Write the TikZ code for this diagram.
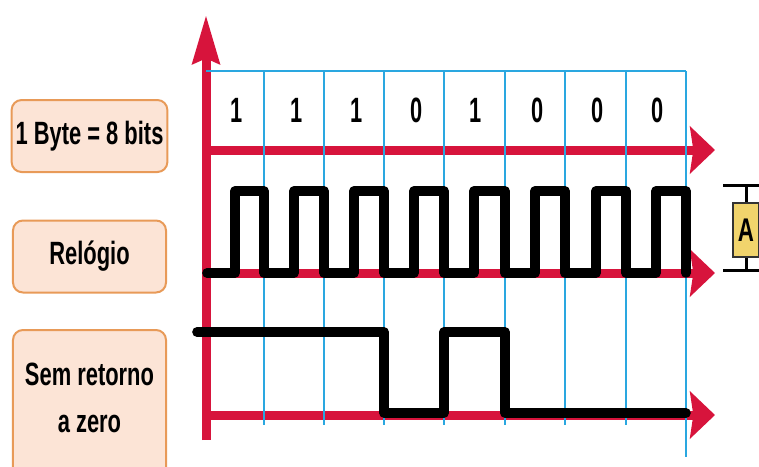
\documentclass[tikz,border=0pt]{standalone}
\usepackage{fontspec}
\setmainfont{Liberation Sans}
\newfontfamily\narrowfont[FakeStretch=0.68]{Liberation Sans}
\newfontfamily\digitfont[FakeStretch=0.62]{Liberation Sans}
\usetikzlibrary{arrows.meta, positioning}

\definecolor{axisred}{HTML}{D7143C}
\definecolor{gridblue}{HTML}{2AA7E0}
\definecolor{boxfill}{HTML}{FCE4D6}
\definecolor{boxline}{HTML}{E89A58}
\definecolor{tagyellow}{HTML}{F1D46C}

\begin{document}
\begin{tikzpicture}[x=0.03cm, y=-0.03cm,
    lbl/.style={draw=boxline, line width=0.06cm, fill=boxfill, rounded corners=0.3cm, align=center, minimum width=4.59cm, minimum height=2.16cm, font=\narrowfont\bfseries\fontsize{27.5}{40}\selectfont},
    bit/.style={font=\digitfont\bfseries\fontsize{30}{30}\selectfont},
    axis/.style={draw=axisred, line width=0.27cm},
    grid/.style={draw=gridblue, line width=0.07cm},
    sig/.style={draw=black, line width=0.29cm, line join=round, line cap=round}]
    \useasboundingbox (0,0) rectangle (759,466);

    % legendas
    \node[lbl] (byte) at (89.5,136) {1 Byte = 8 bits};
    \node[lbl] (clock) at (89.5,256.5) {Relógio};
    \node[lbl, minimum height=4.5cm] (nrz) at (89.5,405) {};
    \node[align=center, font=\narrowfont\bfseries\fontsize{27.5}{40}\selectfont] (nrztxt) at (89.5,398) {Sem retorno\\a zero};

    % eixos
    \draw[axis, -{Stealth[length=1.45cm, width=0.8cm, inset=0.15cm]}] (206,440) -- (206,15);
    \draw[axis, -{Stealth[length=0.75cm, width=1.41cm, inset=0.1cm]}] (206,150) -- (715,150);
    \draw[axis, -{Stealth[length=0.75cm, width=1.41cm, inset=0.1cm]}] (206,273) -- (715,273);
    \draw[axis, -{Stealth[length=0.75cm, width=1.41cm, inset=0.1cm]}] (206,415) -- (715,415);

    % grade
    \draw[grid] (206,71) -- (686,71);
    \draw[grid] (264,71) -- (264,425);
    \draw[grid] (324,71) -- (324,425);
    \draw[grid] (384,71) -- (384,425);
    \draw[grid] (444,71) -- (444,425);
    \draw[grid] (505,71) -- (505,425);
    \draw[grid] (565,71) -- (565,425);
    \draw[grid] (626,71) -- (626,425);
    \draw[grid] (686,71) -- (686,457);

    % bits
    \node[bit] (b1) at (237,110) {1};
    \node[bit] (b2) at (297,110) {1};
    \node[bit] (b3) at (357,110) {1};
    \node[bit] (b4) at (417,110) {0};
    \node[bit] (b5) at (476,110) {1};
    \node[bit] (b6) at (538,110) {0};
    \node[bit] (b7) at (598,110) {0};
    \node[bit] (b8) at (658,110) {0};

    % sinais
    \draw[sig] (207,273) -| (235,191) -| (264,273) -| (294,191) -| (324,273) -| (354,191) -| (384,273) -| (414,191) -| (444,273)
        -| (474,191) -| (505,273) -| (535,191) -| (565,273) -| (596,191) -| (626,273) -| (656,191) -| (686,273);
    \draw[sig] (197,332) -| (384,413) -| (444,332) -| (505,413) -- (686,413);

    % amperimetro
    \node[draw=black!80, line width=0.08cm, fill=tagyellow, minimum width=0.78cm, minimum height=1.62cm, inner sep=0pt,
        font=\narrowfont\bfseries\fontsize{28}{28}\selectfont] (tag) at (746,230) {A};
    \coordinate (tagtop) at (746,185);
    \coordinate (tagbot) at (746,270);
    \draw[line width=0.09cm] (723,185) -- (759,185);
    \draw[line width=0.09cm] (723,270) -- (759,270);
    \draw[line width=0.09cm] (tagtop) -- (tag.north);
    \draw[line width=0.09cm] (tag.south) -- (tagbot);
\end{tikzpicture}
\end{document}
